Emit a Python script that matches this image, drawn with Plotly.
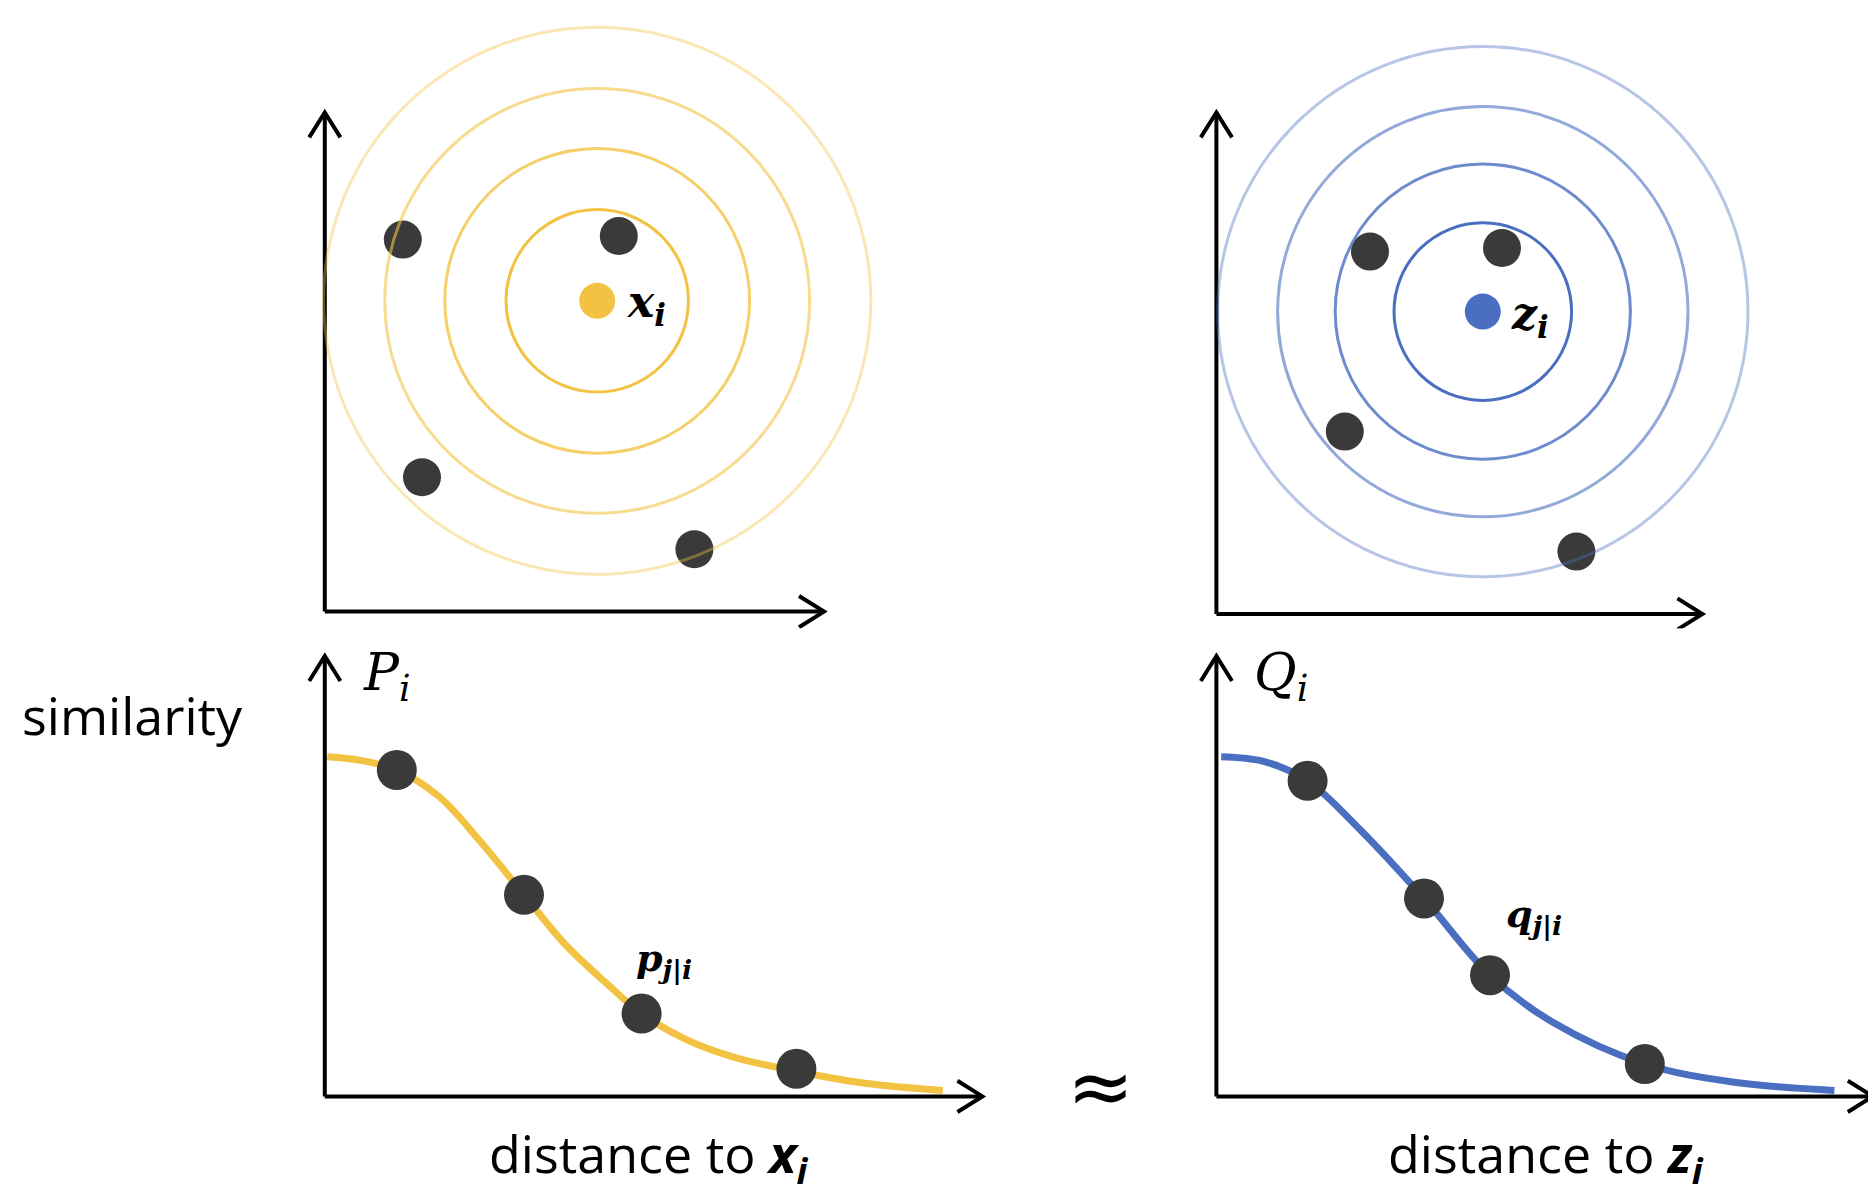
import plotly.graph_objects as go

W, H, S = 1876, 1200, 1.2
YELLOW = '#F2C343'
BLUE = '#4A6FC1'
DOT = '#3a3a3a'

# top panels: neighbour points around a centre, with rings
tl_center = (227, 259)
tl_radii = [76, 127, 177, 228]
tl_x = [65, 245, 81, 308]
tl_y = [310, 313, 112, 52]

tr_center = (222, 252)
tr_radii = [74, 123, 171, 221]
tr_x = [128, 238, 107, 300]
tr_y = [302, 305, 152, 52]

# bottom panels: similarity vs distance
bl_curve_x = [2, 30, 60, 95, 130, 166, 200, 235, 264, 300, 340, 393, 450, 515]
bl_curve_y = [283, 280, 272, 250, 212, 168, 127, 94, 69, 48, 33, 21, 11, 5]
bl_x = [60, 166, 264, 393]
bl_y = [272, 168, 69, 23]

br_curve_x = [4, 40, 76, 120, 173, 228, 280, 357, 430, 515]
br_curve_y = [283, 279, 263, 222, 165, 101, 62, 27, 12, 5]
br_x = [76, 173, 228, 357]
br_y = [263, 165, 101, 27]

ring_alpha = [1.0, 0.8, 0.6, 0.4]

# panel: origin (in 1000-high picture units), local ranges, axis arrow lengths
panels = {
    'tl': dict(o=(264, 503), xr=[-20, 500], yr=[-20, 500], ax=(416, 416)),
    'tr': dict(o=(1007, 505), xr=[-20, 500], yr=[-20, 500], ax=(405, 418)),
    'bl': dict(o=(264, 907), xr=[-262, 700], yr=[-85, 390], ax=(548, 367)),
    'br': dict(o=(1007, 907), xr=[-20, 555], yr=[-85, 390], ax=(547, 367)),
}

fig = go.Figure()
layout = dict(width=W, height=H, margin=dict(l=0, r=0, t=0, b=0),
              plot_bgcolor='white', paper_bgcolor='white', showlegend=False)
refs = {}
for i, (k, p) in enumerate(panels.items(), start=1):
    ox, oy = p['o']
    xd = [(ox + p['xr'][0]) * S / W, (ox + p['xr'][1]) * S / W]
    yd = [1 - (oy - p['yr'][0]) * S / H, 1 - (oy - p['yr'][1]) * S / H]
    xd = [max(0, min(1, v)) for v in xd]
    yd = [max(0, min(1, v)) for v in yd]
    sfx = '' if i == 1 else str(i)
    layout['xaxis' + sfx] = dict(domain=xd, range=p['xr'], visible=False, anchor='y' + sfx)
    layout['yaxis' + sfx] = dict(domain=yd, range=p['yr'], visible=False, anchor='x' + sfx)
    refs[k] = ('x' + sfx, 'y' + sfx)
fig.update_layout(**layout)

def add_axes(k):
    xr, yr = refs[k]
    lx, ly = panels[k]['ax']
    h = 13
    fig.add_trace(go.Scatter(x=[0, 0, None, -h, 0, h], y=[ly, 0, None, ly - 1.6 * h, ly, ly - 1.6 * h],
                             mode='lines', line=dict(color='black', width=4),
                             xaxis=xr, yaxis=yr, hoverinfo='skip'))
    fig.add_trace(go.Scatter(x=[0, lx, None, lx - 1.6 * h, lx, lx - 1.6 * h], y=[0, 0, None, h, 0, -h],
                             mode='lines', line=dict(color='black', width=4),
                             xaxis=xr, yaxis=yr, hoverinfo='skip'))

def hex_rgba(c, a):
    c = c.lstrip('#')
    return 'rgba(%d,%d,%d,%.2f)' % (int(c[0:2], 16), int(c[2:4], 16), int(c[4:6], 16), a)

for k, center, radii, px, py, col in [('tl', tl_center, tl_radii, tl_x, tl_y, YELLOW),
                                      ('tr', tr_center, tr_radii, tr_x, tr_y, BLUE)]:
    xr, yr = refs[k]
    for r, a in zip(radii, ring_alpha):
        fig.add_shape(type='circle', xref=xr, yref=yr,
                      x0=center[0] - r, x1=center[0] + r, y0=center[1] - r, y1=center[1] + r,
                      line=dict(color=hex_rgba(col, a), width=3))
    add_axes(k)
    fig.add_trace(go.Scatter(x=px, y=py, mode='markers', marker=dict(size=38, color=DOT),
                             xaxis=xr, yaxis=yr))
    fig.add_trace(go.Scatter(x=[center[0]], y=[center[1]], mode='markers',
                             marker=dict(size=36, color=col), xaxis=xr, yaxis=yr))

for k, cx, cy, px, py, col in [('bl', bl_curve_x, bl_curve_y, bl_x, bl_y, YELLOW),
                               ('br', br_curve_x, br_curve_y, br_x, br_y, BLUE)]:
    xr, yr = refs[k]
    add_axes(k)
    fig.add_trace(go.Scatter(x=cx, y=cy, mode='lines',
                             line=dict(color=col, width=7, shape='spline', smoothing=1),
                             xaxis=xr, yaxis=yr))
    fig.add_trace(go.Scatter(x=px, y=py, mode='markers', marker=dict(size=40, color=DOT),
                             xaxis=xr, yaxis=yr))

MATH = dict(family='DejaVu Serif', color='black')
def label(k, x, y, text, size, anchor='left', font=MATH):
    xr, yr = refs[k]
    fig.add_annotation(x=x, y=y, xref=xr, yref=yr, text=text, showarrow=False,
                       xanchor=anchor, font=dict(size=size, **font))

label('tl', 250, 256, '<b><i>x</i><sub><i>i</i></sub></b>', 44)
label('tr', 244, 248, '<b><i>z</i><sub><i>i</i></sub></b>', 44)
label('bl', 30, 350, '<i>P</i><sub><i>i</i></sub>', 52)
label('br', 30, 350, '<i>Q</i><sub><i>i</i></sub>', 52)
label('bl', 258, 114, '<b><i>p</i><sub><i>j</i>|<i>i</i></sub></b>', 38)
label('br', 240, 150, '<b><i>q</i><sub><i>j</i>|<i>i</i></sub></b>', 38)

SANS = dict(family='Open Sans', color='black')
label('bl', -160, 318, 'similarity', 52, 'center', SANS)
label('bl', 270, -50, 'distance to <b><i>x</i><sub><i>i</i></sub></b>', 52, 'center', SANS)
label('br', 275, -50, 'distance to <b><i>z</i><sub><i>i</i></sub></b>', 52, 'center', SANS)
label('bl', 646, 8, '≈', 80, 'center', dict(family='DejaVu Sans', color='black'))

fig.write_html('out.html')
